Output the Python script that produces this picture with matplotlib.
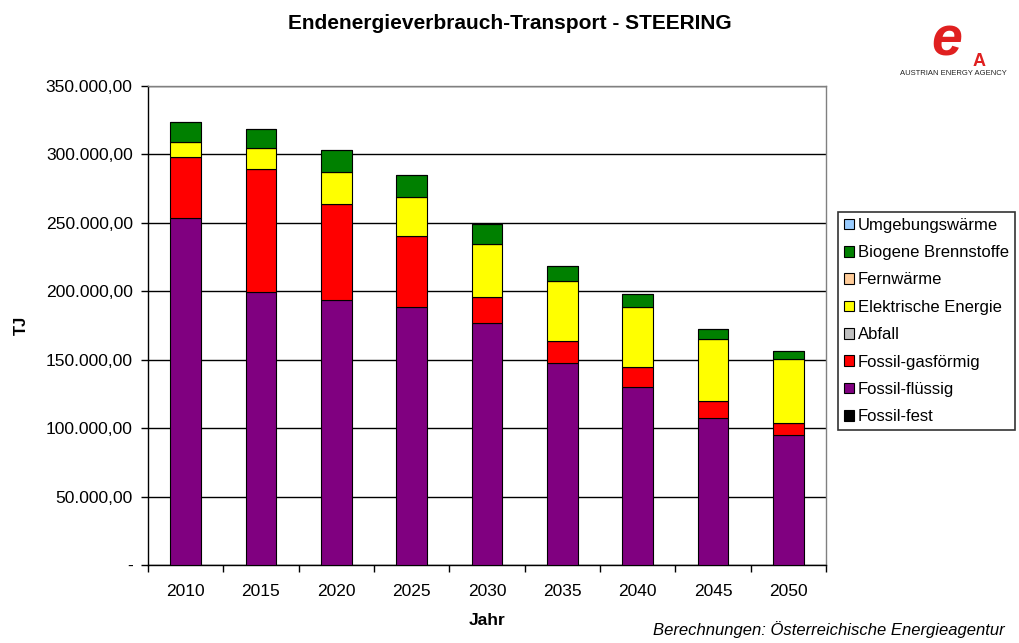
import numpy as np
import matplotlib.pyplot as plt
from matplotlib.ticker import FuncFormatter, FixedLocator

plt.rcParams['font.family'] = ['Liberation Sans', 'DejaVu Sans']

# --- Daten (TJ) ---
years = ['2010', '2015', '2020', '2025', '2030', '2035', '2040', '2045', '2050']

fossil_fest = [0, 0, 0, 0, 0, 0, 0, 0, 0]
fossil_fluessig = [253300, 199700, 193900, 188300, 176600, 147400, 129900, 107200, 94800]
fossil_gas = [44600, 89400, 70100, 52300, 19000, 16300, 14600, 12600, 8700]
abfall = [0, 0, 0, 0, 0, 0, 0, 0, 0]
elektrisch = [11400, 15400, 23200, 28100, 39000, 43600, 44300, 45600, 47200]
fernwaerme = [0, 0, 0, 0, 0, 0, 0, 0, 0]
biogen = [14200, 14100, 15800, 16000, 14800, 11200, 9200, 7300, 5400]
umgebung = [0, 0, 0, 0, 0, 0, 0, 0, 0]

# Reihenfolge von unten nach oben
series = [
    ('Fossil-fest', fossil_fest, '#000000'),
    ('Fossil-flüssig', fossil_fluessig, '#800080'),
    ('Fossil-gasförmig', fossil_gas, '#FF0000'),
    ('Abfall', abfall, '#C0C0C0'),
    ('Elektrische Energie', elektrisch, '#FFFF00'),
    ('Fernwärme', fernwaerme, '#FFCC99'),
    ('Biogene Brennstoffe', biogen, '#008000'),
    ('Umgebungswärme', umgebung, '#99CCFF'),
]

fig = plt.figure(figsize=(10.2, 6.43), dpi=100)
ax = fig.add_axes([148 / 1020, 78 / 643, 678 / 1020, 479 / 643])

x = np.arange(len(years))
bottom = np.zeros(len(years))
handles = []
for name, vals, col in series:
    vals = np.array(vals, dtype=float)
    b = ax.bar(x, vals, bottom=bottom, width=0.41, color=col,
               edgecolor='black', linewidth=0.8, label=name, zorder=3)
    handles.append(b)
    bottom += vals

ax.set_xlim(-0.5, len(years) - 0.5)
ax.set_ylim(0, 350000)
ax.set_yticks(np.arange(0, 350001, 50000))


def de_fmt(v, pos):
    if v == 0:
        return '-'
    s = f'{v:,.2f}'
    return s.replace(',', 'X').replace('.', ',').replace('X', '.')


ax.yaxis.set_major_formatter(FuncFormatter(de_fmt))
ax.yaxis.grid(True, color='black', linewidth=1.0, zorder=0)

ax.set_xticks(x)
ax.set_xticklabels(years)
ax.xaxis.set_minor_locator(FixedLocator(np.arange(-0.5, len(years), 1.0)))
ax.tick_params(axis='x', which='major', length=0, pad=14, labelsize=12.5)
ax.tick_params(axis='x', which='minor', length=5, width=1, color='black')
ax.tick_params(axis='y', length=5, width=1, labelsize=12.6, pad=6)

for side in ['left', 'bottom']:
    ax.spines[side].set_color('black')
    ax.spines[side].set_linewidth(1)
for side in ['top', 'right']:
    ax.spines[side].set_color('#808080')
    ax.spines[side].set_linewidth(1)

ax.set_ylabel('TJ', fontsize=12, fontweight='bold', labelpad=12)
ax.set_xlabel('Jahr', fontsize=12.5, fontweight='bold', labelpad=10)

fig.text(0.5, 0.963, 'Endenergieverbrauch-Transport - STEERING',
         ha='center', va='center', fontsize=15, fontweight='bold')

leg = ax.legend(handles[::-1], [s[0] for s in series][::-1],
                loc='upper left', bbox_to_anchor=(838 / 1020, 431 / 643),
                bbox_transform=fig.transFigure, fontsize=12,
                frameon=True, fancybox=False, edgecolor='black',
                handlelength=0.6, handleheight=0.6, handletextpad=0.25,
                labelspacing=0.74, borderpad=0.35, borderaxespad=0)
leg.get_frame().set_linewidth(1.2)

# Logo (als Text nachgebildet)
fig.text(0.928, 0.935, 'e', color='#E02020', fontsize=40, fontstyle='italic',
         fontweight='bold', ha='center', va='center')
fig.text(0.960, 0.905, 'A', color='#E02020', fontsize=13, fontweight='bold',
         ha='center', va='center')
fig.text(0.935, 0.886, 'AUSTRIAN ENERGY AGENCY', fontsize=5.5,
         ha='center', va='center', color='#222222')

fig.text(0.985, 0.008, 'Berechnungen: Österreichische Energieagentur',
         ha='right', va='bottom', fontsize=12, fontstyle='italic')

fig.savefig('out.png', dpi=100)
